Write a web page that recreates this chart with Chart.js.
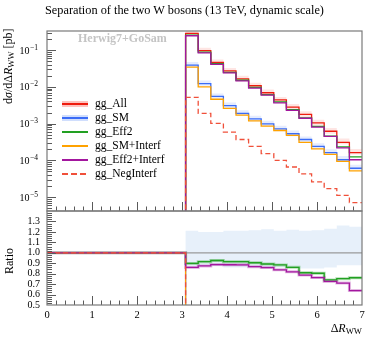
<!DOCTYPE html>
<html><head><meta charset="utf-8">
<script src="https://cdn.jsdelivr.net/npm/chart.js@4.4.1/dist/chart.umd.min.js"></script>
<style>
html,body{margin:0;padding:0;background:#fff;}
#wrap{position:relative;width:374px;height:337px;overflow:hidden;font-family:"Liberation Serif",serif;color:#000;}
canvas{position:absolute;left:0;}
.t{position:absolute;white-space:nowrap;}
.row{position:absolute;left:62px;height:14px;line-height:14px;font-size:11.5px;white-space:nowrap;}
.sw{position:absolute;left:0;width:26px;}
.lab{position:absolute;left:33px;top:-1px;}
sub{font-size:72%;vertical-align:-0.28em;line-height:0;}
</style></head><body>
<div id="wrap">
<canvas id="c1" width="374" height="240" style="top:0;width:374px;height:240px"></canvas>
<canvas id="c2" width="374" height="157" style="top:180px;width:374px;height:157px"></canvas>
<div class="t" style="left:45px;top:3px;font-size:12.3px;line-height:14px;">Separation of the two W bosons (13 TeV, dynamic scale)</div>
<div class="t" style="left:78px;top:31px;font-size:12px;font-weight:bold;color:#c4c4c4;">Herwig7+GoSam</div>
<div class="t" style="left:1px;top:104px;font-size:12px;transform:rotate(-90deg);transform-origin:left top;line-height:14px;">d<i>σ</i>/dΔ<i>R</i><sub>WW</sub> [pb]</div>
<div class="t" style="left:2px;top:274px;font-size:12px;transform:rotate(-90deg);transform-origin:left top;line-height:14px;">Ratio</div>
<div class="t" style="right:12px;top:321px;font-size:12px;line-height:14px;">Δ<i>R</i><sub>WW</sub></div>

<div class="row" style="top:97px"><div class="sw" style="top:4px;height:6px;background:rgba(250,120,110,0.45)"></div><div class="sw" style="top:6px;height:1.5px;background:#ee1c0e"></div><span class="lab">gg_All</span></div>
<div class="row" style="top:111px"><div class="sw" style="top:4px;height:6px;background:rgba(120,160,250,0.35)"></div><div class="sw" style="top:6px;height:1.5px;background:#3b6cf6"></div><span class="lab">gg_SM</span></div>
<div class="row" style="top:125px"><div class="sw" style="top:6px;height:1.5px;background:#22a022"></div><span class="lab">gg_Eff2</span></div>
<div class="row" style="top:139px"><div class="sw" style="top:6px;height:1.5px;background:#ffa200"></div><span class="lab">gg_SM+Interf</span></div>
<div class="row" style="top:153px"><div class="sw" style="top:6px;height:1.5px;background:#a3169e"></div><span class="lab">gg_Eff2+Interf</span></div>
<div class="row" style="top:167px"><div class="sw" style="top:6px;height:1.5px;background:repeating-linear-gradient(90deg,#f0503a 0 6px,transparent 6px 9px)"></div><span class="lab">gg_NegInterf</span></div>
</div>
<script>
// ---- data ----
const binEdges = [0.00,0.28,0.56,0.84,1.12,1.40,1.68,1.96,2.24,2.52,2.80,3.08,3.36,3.64,3.92,4.20,4.48,4.76,5.04,5.32,5.60,5.88,6.16,6.44,6.72,7.00];
const gg_All        = [0,0,0,0,0,0,0,0,0,0,0, 0.285,0.096,0.046,0.027,0.0165,0.0107,0.0069,0.0044,0.0028,0.00178,0.00105,0.00062,0.00031,0.000163];
const gg_SM         = [0,0,0,0,0,0,0,0,0,0,0, 0.039,0.0123,0.0055,0.0031,0.0019,0.00134,0.00098,0.00072,0.00053,0.00037,0.00024,0.000162,0.000104,0.000061];
const gg_Eff2       = [0,0,0,0,0,0,0,0,0,0,0, 0.256,0.0878,0.0426,0.0247,0.0151,0.00968,0.00616,0.00389,0.00241,0.00144,0.000844,0.000459,0.000233,0.000124];
const gg_SMInterf   = [0,0,0,0,0,0,0,0,0,0,0, 0.0345,0.0100,0.0046,0.0026,0.0017,0.00118,0.00085,0.00065,0.00048,0.00031,0.000205,0.000145,0.000094,0.000052];
const gg_Eff2Interf = [0,0,0,0,0,0,0,0,0,0,0, 0.245,0.0839,0.0408,0.0239,0.0146,0.00928,0.00592,0.00368,0.00229,0.0014,0.000801,0.00045,0.00022,0.000104];
const gg_NegInterf  = [0,0,0,0,0,0,0,0,0,0,0, 0.0052,0.0019,0.00102,0.00059,0.00037,0.00024,0.000152,0.0001,0.000066,0.000043,0.000026,0.000017,0.0000112,0.0000071];
// relative uncertainty band (upper / lower factor)
const bandHi = [0,0,0,0,0,0,0,0,0,0,0, 1.21,1.20,1.20,1.21,1.21,1.215,1.225,1.21,1.22,1.21,1.215,1.23,1.26,1.25];
const bandLo = [0,0,0,0,0,0,0,0,0,0,0, 0.87,0.87,0.87,0.86,0.86,0.86,0.86,0.86,0.86,0.85,0.85,0.86,0.88,0.88];
// ticks
const xTickLabels = ['0','1','2','3','4','5','6','7'];
const yDecades = [1e-5,1e-4,1e-3,1e-2,1e-1];
const yDecadeExp = ['−5','−4','−3','−2','−1'];
const ratioTickLabels = ['0.5','0.6','0.7','0.8','0.9','1.0','1.1','1.2','1.3'];

const COL = {all:'#ee1c0e', sm:'#3b6cf6', eff2:'#22a022', smi:'#ffa200', effi:'#a3169e', neg:'#f0503a'};
const FONT = 'Liberation Serif';

function stepPts(vals, floor){
  const pts=[]; vals.forEach((v,i)=>{const y=v>0?v:floor; pts.push({x:binEdges[i],y}); pts.push({x:binEdges[i+1],y});}); return pts;
}
function bandPts(vals, rel){
  const pts=[]; vals.forEach((v,i)=>{ if(v>0){ pts.push({x:binEdges[i],y:v*rel[i]}); pts.push({x:binEdges[i+1],y:v*rel[i]}); } }); return pts;
}
function ratio(vals){ return vals.map((v,i)=> gg_All[i]>0 ? v/gg_All[i] : 1); }
function line(data,color,order,extra){ return Object.assign({data,borderColor:color,borderWidth:1.3,fill:false,pointRadius:0,order},extra||{}); }

const frameTicks = {
  id:'frameTicks',
  afterDatasetsDraw(chart){
    const {ctx, chartArea:a, scales} = chart;
    ctx.save();
    ctx.strokeStyle='#5a5a5a'; ctx.lineWidth=1;
    ctx.beginPath();
    scales.x.ticks.forEach(t=>{ const p=Math.round(scales.x.getPixelForValue(t.value))+0.5; if(p<=a.left+1||p>=a.right-1) return; const L=t.major?9:4.5; ctx.moveTo(p,a.bottom); ctx.lineTo(p,a.bottom-L); });
    scales.y.ticks.forEach(t=>{ const p=Math.round(scales.y.getPixelForValue(t.value))+0.5; if(p<=a.top+1||p>=a.bottom-1) return; const L=t.major?9:5; ctx.moveTo(a.left,p); ctx.lineTo(a.left+L,p); });
    ctx.stroke();
    ctx.strokeStyle='#7a7a7a'; ctx.lineWidth=1.2;
    ctx.strokeRect(a.left,a.top,a.right-a.left,a.bottom-a.top);
    ctx.restore();
  }
};
// log-axis labels 10^n drawn at the scale's own pixel positions
const logLabels = {
  id:'logLabels',
  afterDraw(chart){
    const {ctx, scales} = chart; const y=scales.y;
    ctx.save(); ctx.fillStyle='#000'; ctx.textBaseline='alphabetic';
    yDecades.forEach((d,i)=>{
      const p=y.getPixelForValue(d);
      ctx.font='7.5px "'+FONT+'"'; const ws=ctx.measureText(yDecadeExp[i]).width;
      const right=38;
      ctx.textAlign='right'; ctx.fillText(yDecadeExp[i], right, p-0.5);
      ctx.font='10px "'+FONT+'"'; ctx.fillText('10', right-ws-0.5, p+3.5);
    });
    ctx.restore();
  }
};
function xTicks(){ const t=[]; for(let k=0;k<=35;k++){ const v=k/5; t.push({value:v, major:k%5===0}); } return t; }

const base = {responsive:false, animation:false, events:[], plugins:{legend:{display:false},tooltip:{enabled:false}}, elements:{line:{tension:0}, point:{radius:0}}};

// ---- main panel ----
const FLOOR=1e-12;
const mainSets = [
  line(bandPts(gg_All,bandHi),'transparent',20,{borderWidth:0,fill:'+1',backgroundColor:'rgba(250,110,100,0.18)'}),
  line(bandPts(gg_All,bandLo),'transparent',21,{borderWidth:0}),
  line(bandPts(gg_SM,bandHi),'transparent',22,{borderWidth:0,fill:'+1',backgroundColor:'rgba(110,150,250,0.18)'}),
  line(bandPts(gg_SM,bandLo),'transparent',23,{borderWidth:0}),
  line(stepPts(gg_All,FLOOR),COL.all,6),
  line(stepPts(gg_SM,FLOOR),COL.sm,5),
  line(stepPts(gg_Eff2,FLOOR),COL.eff2,4),
  line(stepPts(gg_SMInterf,FLOOR),COL.smi,3),
  line(stepPts(gg_Eff2Interf,FLOOR),COL.effi,2),
  line(stepPts(gg_NegInterf,FLOOR),COL.neg,1,{borderDash:[5,3]})
];
const yMin=4.2e-6, yMax=0.33;
new Chart(document.getElementById('c1'),{
  type:'line', data:{datasets:mainSets},
  options:Object.assign({},base,{
    layout:{padding:{top:31,right:12,bottom:29,left:0}},
    scales:{
      x:{type:'linear',min:0,max:7,afterBuildTicks:s=>{s.ticks=xTicks();},afterFit:s=>{s.height=0;},ticks:{display:false},grid:{display:false,drawTicks:false},border:{display:false}},
      y:{type:'logarithmic',min:yMin,max:yMax,
         afterBuildTicks:s=>{ const t=[]; for(let e=-6;e<=-1;e++){ for(let m=1;m<=9;m++){ const v=m*Math.pow(10,e); if(v>=yMin&&v<=yMax) t.push({value:v,major:m===1}); } } s.ticks=t; },
         afterFit:s=>{s.width=47;},
         ticks:{display:false},
         grid:{display:false,drawTicks:false},border:{display:false}}
    }
  }),
  plugins:[frameTicks,logLabels]
});

// ---- ratio panel ----
const ratioSets = [
  line(bandPts(ratio(gg_All),bandHi),'transparent',20,{borderWidth:0,fill:'+1',backgroundColor:'rgba(175,205,238,0.3)'}),
  line(bandPts(ratio(gg_All),bandLo),'transparent',21,{borderWidth:0}),
  line(stepPts(ratio(gg_Eff2),0),'rgba(34,160,34,0.35)',12,{borderWidth:3}),
  line(stepPts(ratio(gg_Eff2Interf),0),'rgba(163,22,158,0.3)',11,{borderWidth:3}),
  line(stepPts(ratio(gg_All),0),'#9a9a9a',7),
  line(stepPts(ratio(gg_SM),0),COL.sm,6),
  line(stepPts(ratio(gg_Eff2),0),COL.eff2,5),
  line(stepPts(ratio(gg_SMInterf),0),COL.smi,4),
  line(stepPts(ratio(gg_Eff2Interf),0),COL.effi,3),
  line(stepPts(ratio(gg_NegInterf),0),COL.neg,1,{borderDash:[5,3]})
];
new Chart(document.getElementById('c2'),{
  type:'line', data:{datasets:ratioSets},
  options:Object.assign({},base,{
    layout:{padding:{top:31,right:12,bottom:0,left:0}},
    scales:{
      x:{type:'linear',min:0,max:7,afterBuildTicks:s=>{s.ticks=xTicks();},afterFit:s=>{s.height=32;},
         ticks:{autoSkip:false,maxRotation:0,padding:4,color:'#000',font:{family:FONT,size:10.5},
           callback:(v)=>{ const r=Math.round(v); return Math.abs(v-r)<1e-6 ? xTickLabels[r] : ''; }},
         grid:{display:false,drawTicks:false},border:{display:false}},
      y:{type:'linear',min:0.5,max:1.4,
         afterBuildTicks:s=>{ const t=[]; for(let k=25;k<70;k++){ t.push({value:k/50,major:k%5===0}); } s.ticks=t; },
         afterFit:s=>{s.width=47;},
         ticks:{autoSkip:false,padding:7,color:'#000',font:{family:FONT,size:10},
           callback:(v)=>{ const k=Math.round(v*10); return (Math.abs(v*10-k)<1e-6 && k>=5 && k<=13) ? ratioTickLabels[k-5] : ''; }},
         grid:{display:false,drawTicks:false},border:{display:false}}
    }
  }),
  plugins:[frameTicks]
});
</script>
</body></html>
